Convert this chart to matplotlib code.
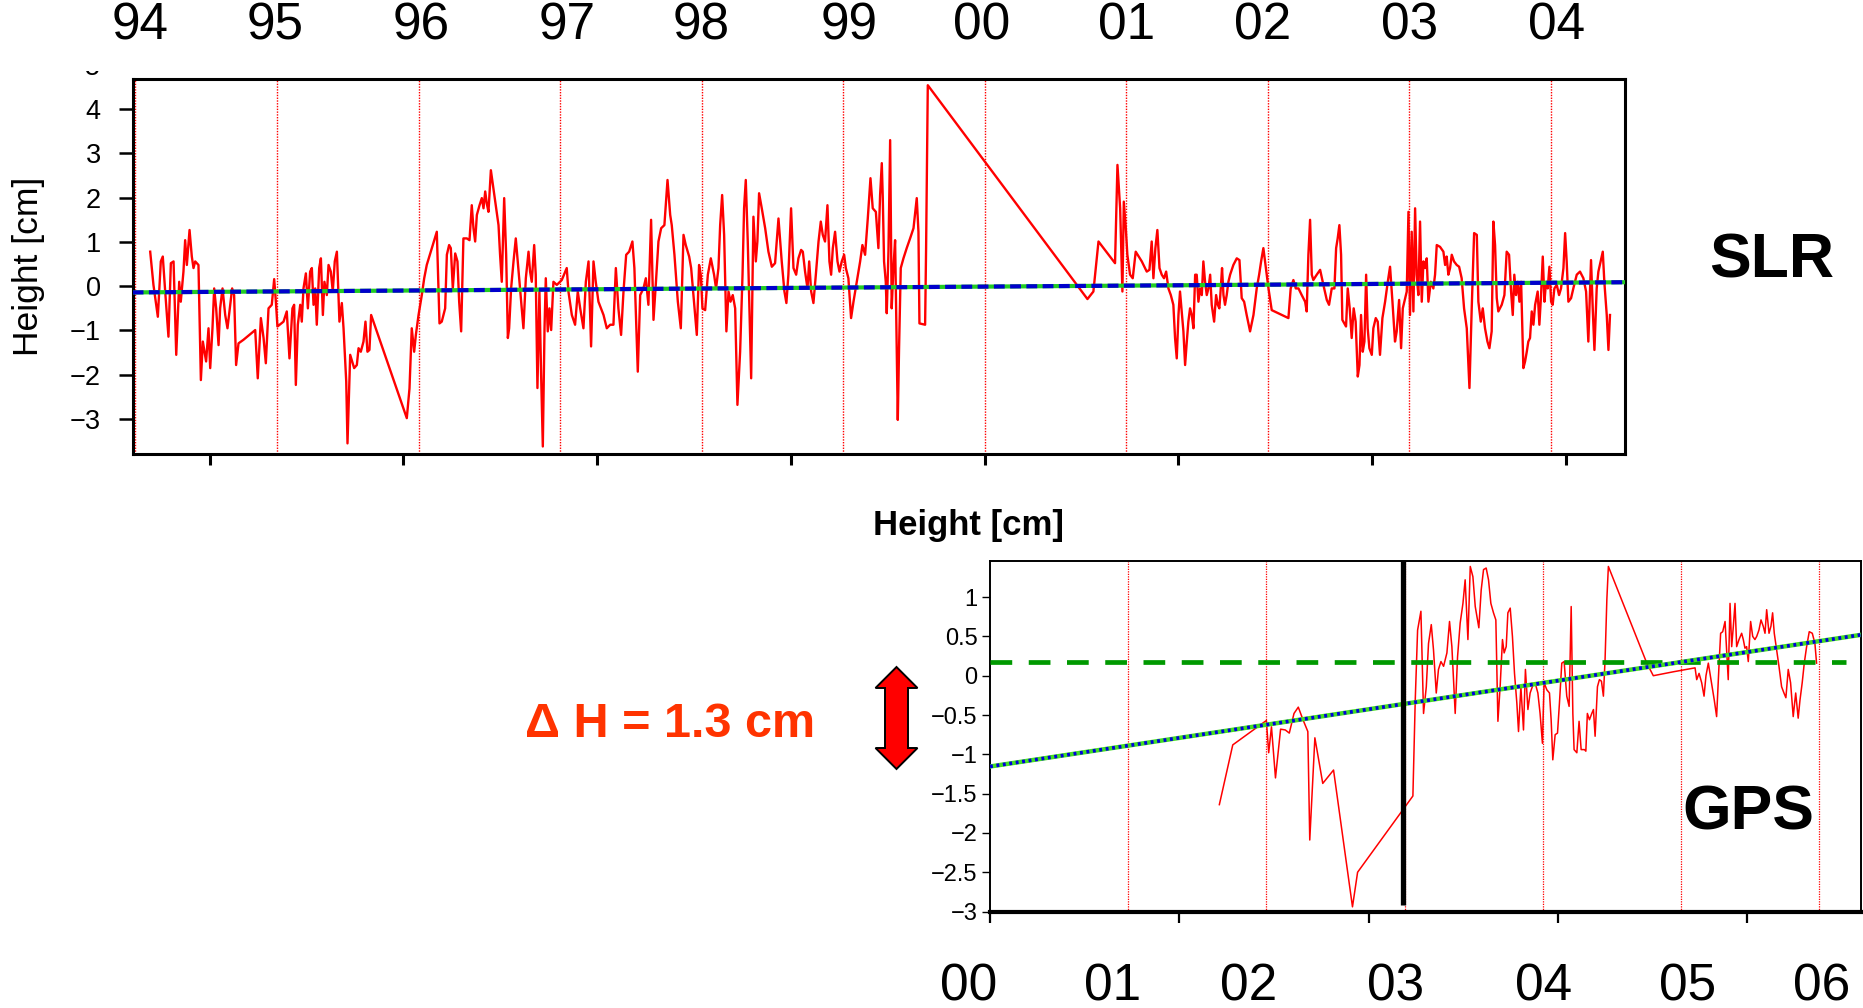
import matplotlib
matplotlib.use("Agg")
import matplotlib.pyplot as plt
import numpy as np
from matplotlib.patches import Polygon
from matplotlib.transforms import Bbox, TransformedBbox
from matplotlib.ticker import FuncFormatter

plt.rcParams['font.family'] = ['Liberation Sans', 'DejaVu Sans']
NARROW = ['Liberation Sans Narrow', 'Liberation Sans', 'DejaVu Sans']

# ---------------- SLR data (decimal year, height cm) ----------------
slr_year = [
1994.104,1994.127,1994.158,1994.179,1994.193,1994.210,1994.233,1994.250,1994.269,1994.288,
1994.309,1994.320,1994.339,1994.351,1994.363,1994.382,1994.398,1994.410,1994.422,1994.445,
1994.462,1994.476,1994.488,1994.499,1994.516,1994.528,1994.544,1994.556,1994.570,1994.587,
1994.598,1994.615,1994.634,1994.650,1994.669,1994.683,1994.697,1994.711,1994.728,1994.763,
1994.846,1994.864,1994.886,1994.905,1994.921,1994.940,1994.963,1994.980,1994.992,1995.003,
1995.046,1995.069,1995.088,1995.109,1995.121,1995.133,1995.147,1995.164,1995.175,1995.187,
1995.204,1995.218,1995.234,1995.246,1995.258,1995.270,1995.281,1995.298,1995.310,1995.324,
1995.335,1995.352,1995.364,1995.380,1995.394,1995.408,1995.423,1995.441,1995.458,1995.470,
1995.489,1995.498,1995.517,1995.531,1995.545,1995.564,1995.576,1995.592,1995.611,1995.625,
1995.639,1995.653,1995.665,1995.917,1995.936,1995.952,1995.969,1995.981,1996.000,1996.023,
1996.040,1996.058,1996.129,1996.148,1996.164,1996.188,1996.200,1996.216,1996.228,1996.242,
1996.259,1996.275,1996.287,1996.301,1996.317,1996.341,1996.360,1996.376,1996.388,1996.400,
1996.412,1996.431,1996.447,1996.459,1996.471,1996.482,1996.494,1996.511,1996.529,1996.548,
1996.565,1996.576,1996.588,1996.605,1996.619,1996.631,
1996.640,1996.654,1996.671,1996.687,1996.701,1996.718,1996.741,1996.758,1996.777,1996.788,
1996.800,1996.817,1996.828,1996.840,1996.854,1996.866,1996.878,1996.890,1996.899,1996.913,
1996.925,1996.937,1996.953,1996.977,1997.012,1997.047,1997.059,1997.083,1997.106,1997.125,
1997.142,1997.165,1997.182,1997.201,1997.219,1997.236,1997.252,1997.271,1997.307,1997.330,
1997.354,1997.377,1997.394,1997.412,1997.431,1997.448,1997.467,1997.488,1997.511,1997.525,
1997.549,1997.566,1997.589,1997.606,1997.624,1997.643,1997.660,1997.676,1997.695,1997.714,
1997.737,1997.759,1997.778,1997.789,1997.808,1997.832,1997.853,1997.872,1997.888,1997.912,
1997.926,1997.942,1997.966,1997.982,1997.994,1998.006,1998.025,1998.044,1998.065,1998.088,
1998.102,1998.119,1998.131,1998.145,1998.159,1998.175,1998.190,1998.204,1998.220,1998.237,
1998.253,1998.272,1998.289,1998.300,1998.312,1998.326,1998.338,1998.350,1998.366,1998.383,
1998.394,1998.406,1998.425,1998.449,1998.472,1998.496,1998.519,1998.543,1998.566,1998.585,
1998.599,1998.613,1998.632,1998.649,1998.668,1998.684,1998.703,1998.715,1998.731,1998.748,
1998.760,1998.774,1998.790,1998.807,1998.826,1998.842,1998.856,1998.872,1998.889,1998.903,
1998.915,1998.927,1998.943,1998.960,1998.974,1998.990,1999.007,1999.019,1999.037,1999.056,
1999.073,1999.096,1999.120,1999.136,1999.155,1999.174,1999.193,1999.209,1999.231,1999.249,
1999.261,1999.273,
1999.280,1999.289,1999.301,1999.308,1999.320,1999.332,1999.343,1999.355,1999.367,1999.379,
1999.386,1999.395,1999.407,1999.426,1999.449,1999.473,1999.497,1999.520,1999.532,1999.539,
1999.579,1999.586,1999.598,2000.726,2000.768,2000.804,2000.921,2000.938,2000.957,2000.973,
2000.983,2000.997,2001.008,2001.027,2001.046,2001.067,2001.110,2001.145,2001.164,2001.180,
2001.192,2001.206,2001.220,2001.235,2001.251,2001.267,2001.282,2001.298,2001.315,2001.333,
2001.345,2001.357,2001.369,2001.380,2001.392,2001.404,2001.416,2001.428,2001.439,2001.451,
2001.463,2001.475,2001.487,2001.498,2001.510,2001.522,2001.534,2001.545,2001.557,2001.569,
2001.581,2001.593,2001.604,2001.621,2001.635,2001.647,2001.658,2001.668,2001.677,2001.687,
2001.698,2001.710,2001.722,2001.734,2001.757,2001.781,2001.800,2001.816,2001.833,2001.851,
2001.875,2001.899,2001.922,
2001.939,2001.953,2001.969,2001.981,2002.005,2002.028,2002.146,2002.162,2002.181,2002.198,
2002.217,2002.240,2002.264,2002.275,2002.287,2002.299,2002.311,2002.322,2002.346,2002.370,
2002.393,2002.417,2002.433,2002.452,2002.471,2002.483,2002.494,2002.506,2002.518,2002.527,
2002.541,2002.553,2002.565,2002.579,2002.593,2002.607,2002.621,2002.636,2002.648,2002.659,
2002.671,2002.683,2002.695,2002.706,2002.718,2002.735,2002.746,2002.763,2002.777,2002.793,
2002.810,2002.829,2002.848,2002.864,2002.881,2002.899,2002.911,2002.928,2002.942,2002.954,
2002.965,2002.982,2002.994,2003.005,2003.017,2003.029,2003.041,2003.052,2003.064,2003.076,
2003.088,2003.100,2003.111,2003.123,2003.135,2003.152,2003.170,2003.182,2003.194,2003.217,
2003.241,2003.253,2003.264,2003.276,2003.288,2003.300,2003.316,2003.335,2003.352,2003.370,
2003.387,2003.406,2003.425,2003.441,2003.458,2003.477,2003.488,2003.505,2003.519,2003.535,
2003.552,2003.566,2003.582,2003.594,2003.606,2003.618,2003.629,2003.653,2003.672,2003.688,
2003.705,2003.719,2003.731,2003.742,2003.754,2003.766,2003.778,2003.790,2003.806,2003.818,
2003.830,2003.841,2003.853,2003.865,2003.877,2003.889,2003.907,2003.919,2003.931,2003.943,
2003.955,2003.966,2003.978,2003.990,2004.002,2004.013,2004.025,2004.042,2004.058,2004.072,
2004.089,2004.101,2004.112,2004.124,2004.143,2004.159,2004.183,2004.206,2004.230,2004.249,
2004.265,2004.284,2004.296,2004.308,2004.324,2004.336,2004.352,2004.367,2004.378,2004.395,
2004.407,2004.418]

slr_height = [
0.78,0.03,-0.69,0.56,0.67,-0.12,-1.14,0.52,0.56,-1.55,
0.10,-0.35,0.33,1.04,0.48,1.27,0.67,0.41,0.56,0.48,
-2.12,-1.25,-1.48,-1.70,-0.95,-1.85,-0.95,-0.05,-0.50,-1.33,
-0.50,-0.05,-0.65,-0.95,-0.42,-0.05,-0.20,-1.78,-1.29,-1.21,
-0.99,-2.08,-0.72,-1.17,-1.74,-0.50,-0.42,0.16,-0.35,-0.91,
-0.80,-0.57,-1.63,-0.50,-0.42,-2.23,-0.87,-0.42,-0.80,-0.05,
0.29,-0.50,0.33,0.41,-0.42,-0.05,-0.87,0.41,0.63,-0.65,
0.10,-0.20,0.48,0.33,-0.12,0.56,0.78,-0.80,-0.38,-0.95,
-2.15,-3.55,-1.55,-1.70,-1.85,-1.78,-1.40,-1.48,-1.25,-0.80,
-1.48,-1.44,-0.65,-2.98,-2.31,-0.95,-1.48,-1.10,-0.65,-0.20,
0.18,0.48,1.23,-0.84,-0.80,-0.50,0.71,0.93,0.86,-0.05,
0.74,0.56,-0.35,-1.02,1.08,1.08,1.04,1.83,1.31,1.01,
1.61,1.83,1.99,1.76,2.14,1.87,1.68,2.62,2.21,1.76,
1.38,0.71,0.10,1.99,0.71,-1.17,
-0.95,-0.05,0.56,1.08,0.56,-0.05,-0.95,0.18,0.78,0.33,
0.10,0.93,0.26,-2.30,-0.12,-2.00,-3.62,-0.95,0.18,-1.02,
-0.50,-0.99,0.10,0.03,0.14,0.41,-0.12,-0.65,-0.87,-0.12,
-0.50,-0.95,0.10,0.56,-1.36,0.56,0.10,-0.35,-0.65,-0.95,
-0.87,-0.87,0.41,-0.50,-1.10,-0.12,0.71,0.78,1.01,0.41,
-1.93,-0.20,-0.05,0.18,-0.42,1.50,-0.76,0.03,1.01,1.31,
1.38,2.40,1.61,1.38,0.71,-0.35,-0.95,1.16,0.93,0.67,
0.41,-0.20,-1.10,0.48,0.26,-0.50,-0.54,0.26,0.63,0.26,
-0.05,0.41,1.38,2.06,1.16,-1.02,-0.12,-0.35,-0.20,-0.50,
-2.68,-1.48,0.26,1.76,2.40,1.01,-0.50,-2.08,1.57,0.56,
1.01,2.10,1.76,1.31,0.78,0.44,0.52,1.53,0.56,-0.12,
-0.38,0.26,1.76,0.41,0.26,0.63,0.82,0.78,0.33,-0.05,
0.56,-0.12,-0.38,0.26,1.01,1.46,1.16,1.01,1.83,0.56,
0.26,0.86,1.23,0.56,0.33,0.56,0.71,0.41,0.18,-0.72,
-0.35,0.10,0.56,0.93,0.71,1.53,2.44,1.76,1.68,0.86,
2.06,2.78,
1.99,0.56,0.10,-0.61,0.78,3.30,-0.50,0.41,1.04,-1.48,
-3.02,-1.40,0.41,0.63,0.86,1.08,1.31,1.99,1.23,-0.84,
-0.87,0.86,4.54,-0.29,-0.12,1.01,0.52,2.74,1.76,-0.12,
1.91,1.31,0.71,0.26,0.18,0.78,0.56,0.33,0.37,1.01,
0.18,0.86,1.27,0.41,0.26,0.18,0.33,-0.05,-0.20,-0.42,
-1.17,-1.63,-0.65,-0.12,-0.57,-1.02,-1.78,-1.25,-0.80,-0.50,
-0.65,-0.95,0.26,0.26,-0.35,-0.05,-0.20,0.56,0.10,-0.20,
-0.05,0.26,-0.42,-0.80,-0.20,-0.42,-0.50,-0.05,0.41,-0.20,
-0.42,-0.20,0.10,0.26,0.48,0.63,0.59,-0.27,-0.35,-0.65,
-1.02,-0.65,-0.05,
0.26,0.56,0.86,0.56,-0.05,-0.54,-0.72,-0.05,0.14,-0.05,
-0.05,-0.20,-0.35,-0.57,0.71,1.50,0.26,0.14,0.26,0.37,
0.03,-0.31,-0.42,-0.05,-0.05,0.86,1.08,1.38,0.71,-0.76,
-0.84,-0.91,-0.05,-0.50,-1.17,-0.50,-0.80,-2.04,-1.78,-0.65,
-1.48,-1.25,0.26,-0.95,-1.40,-1.55,-0.95,-0.72,-0.80,-1.55,
-0.72,-0.35,0.10,0.44,-0.35,-1.25,-1.02,-0.31,-1.40,-0.50,
-0.35,-0.12,1.68,-0.65,1.23,-0.57,1.76,0.26,-0.20,1.46,
-0.35,0.56,0.41,0.63,-0.35,0.10,-0.05,0.26,0.93,0.89,
0.78,0.48,0.67,0.26,0.41,0.71,0.56,0.48,0.44,0.18,
-0.50,-0.95,-2.30,-0.50,1.20,1.16,-0.35,-0.80,-0.50,-0.95,
-1.25,-1.40,-1.02,1.46,0.93,-0.27,-0.57,-0.42,-0.20,0.78,
0.71,-0.12,-0.65,0.26,-0.20,0.10,-0.35,0.10,-1.85,-1.70,
-1.48,-1.25,-1.17,-0.57,-0.87,-0.42,-0.12,-0.87,-0.20,0.67,
-0.35,0.10,-0.05,0.44,-0.35,-0.42,-0.05,0.03,-0.20,-0.05,
0.41,1.20,0.56,-0.35,-0.27,-0.05,0.26,0.33,0.18,-0.12,
-1.25,0.59,-0.50,-1.44,-0.05,0.33,0.56,0.78,0.10,-0.65,
-1.44,-0.65]

slr_trend_year = [1993.98, 2004.526]
slr_trend_height = [-0.14, 0.09]
slr_year_marks = [1994, 1995, 1996, 1997, 1998, 1999, 2000, 2001, 2002, 2003, 2004]
slr_year_labels = ['94', '95', '96', '97', '98', '99', '00', '01', '02', '03', '04']
slr_label_pos = [1994.035, 1994.984, 1996.017, 1997.050, 1997.999, 1999.040,
                 1999.981, 2001.005, 2001.962, 2003.004, 2004.037]
slr_xticks = [1994.524, 1995.893, 1997.262, 1998.631, 2000.0, 2001.369, 2002.738, 2004.107]
slr_yticks = [-3, -2, -1, 0, 1, 2, 3, 4]

# ---------------- GPS data ----------------
gps_year = [
2001.659,2001.756,2001.999,2002.016,2002.036,2002.065,2002.102,2002.136,2002.165,2002.199,
2002.230,2002.264,2002.299,2002.313,2002.350,2002.407,2002.485,2002.622,2002.659,2003.059,
2003.076,2003.093,2003.117,2003.136,2003.156,2003.172,2003.192,2003.208,2003.228,2003.244,
2003.262,2003.281,2003.305,2003.324,2003.341,2003.365,2003.382,2003.401,2003.421,2003.437,
2003.457,2003.474,2003.493,2003.510,2003.536,2003.553,2003.570,2003.589,2003.606,2003.623,
2003.642,2003.659,2003.674,2003.690,2003.707,2003.719,2003.734,2003.746,2003.763,2003.779,
2003.794,2003.811,2003.823,2003.840,2003.859,2003.873,2003.891,2003.907,2003.927,2003.943,
2003.963,2003.979,2003.996,2004.008,2004.028,2004.047,2004.059,2004.071,2004.088,2004.105,
2004.119,2004.136,2004.153,2004.172,2004.189,2004.204,2004.216,2004.225,2004.245,2004.261,
2004.276,2004.300,2004.310,2004.321,2004.336,2004.353,2004.365,2004.377,2004.394,2004.408,
2004.423,2004.437,2004.449,2004.462,2004.473,2004.751,2004.798,2004.943,2005.100,2005.112,
2005.129,2005.148,2005.165,2005.179,2005.196,2005.215,2005.239,2005.256,2005.273,2005.285,
2005.300,2005.317,2005.329,2005.340,2005.353,2005.365,2005.377,2005.389,2005.401,2005.418,
2005.437,2005.449,2005.461,2005.473,2005.485,2005.502,2005.517,2005.533,2005.546,2005.562,
2005.577,2005.593,2005.606,2005.618,2005.635,2005.649,2005.661,2005.673,2005.690,2005.707,
2005.726,2005.743,2005.757,2005.774,2005.791,2005.810,2005.828,2005.846,2005.859,2005.875,
2005.890,2005.907,2005.926,2005.948,2005.967,2005.979]

gps_height = [
-1.64,-0.88,-0.57,-0.98,-0.65,-1.30,-0.68,-0.69,-0.73,-0.48,
-0.40,-0.56,-0.71,-2.09,-0.79,-1.37,-1.20,-2.94,-2.50,-1.53,
-0.31,0.58,0.82,-0.48,-0.14,0.41,0.65,0.33,-0.22,0.08,
0.18,0.12,0.29,0.69,0.37,-0.48,0.24,0.67,0.92,1.22,
0.46,1.39,1.26,0.88,0.61,1.09,1.35,1.37,1.22,0.92,
0.80,0.71,-0.58,-0.14,0.46,0.29,0.37,0.80,0.86,0.50,
0.03,-0.35,-0.71,-0.14,-0.69,0.08,-0.43,-0.22,-0.12,-0.09,
-0.22,-0.48,-0.86,-0.09,-0.18,-0.22,-0.56,-1.07,-0.75,-0.73,
-0.35,0.16,0.18,-0.26,-0.39,0.88,-0.48,-0.94,-0.98,-0.58,
-0.94,-0.94,-0.96,-0.48,-0.56,-0.48,-0.43,-0.77,-0.14,-0.05,
-0.07,-0.26,0.20,0.97,1.39,0.16,0.00,0.05,0.10,-0.05,
0.03,-0.09,-0.26,0.00,0.16,-0.05,-0.31,-0.52,0.12,0.54,
0.56,0.69,0.29,-0.05,0.92,0.37,0.63,0.92,0.37,0.46,
0.54,0.46,0.35,0.37,0.18,0.69,0.50,0.46,0.50,0.58,
0.71,0.63,0.54,0.84,0.54,0.63,0.80,0.54,0.33,0.12,
-0.14,-0.22,-0.28,0.08,-0.09,-0.52,-0.22,-0.54,-0.31,-0.09,
0.16,0.37,0.56,0.54,0.41,0.16]

gps_trend_year = [2000.0, 2006.30]
gps_trend_height = [-1.155, 0.52]
gps_offset_year = [2000.0, 2006.19]
gps_offset_height = [0.17, 0.17]
gps_break_year = 2002.99
gps_break_range = [-2.92, 1.46]
gps_year_marks = [2001, 2002, 2003, 2004, 2005, 2006]
gps_year_labels = ['00', '01', '02', '03', '04', '05', '06']
gps_label_pos = [1999.845, 2000.888, 2001.871, 2002.931, 2004.004, 2005.046, 2006.019]
gps_xticks = [2000.0, 2001.369, 2002.738, 2004.107, 2005.476]
gps_yticks = [-3, -2.5, -2, -1.5, -1, -0.5, 0, 0.5, 1]

# ---------------- figure ----------------
W, H = 1863, 1008
fig = plt.figure(figsize=(W / 100, H / 100), dpi=100)
fig.patch.set_facecolor('white')

fmt = FuncFormatter(lambda v, p: ('%g' % v).replace('-', '\u2212'))

# ---- SLR panel ----
ax1 = fig.add_axes([0.0712, 0.5496, 0.8012, 0.372])
for yr in slr_year_marks:
    ax1.axvline(yr, color='red', lw=1.0, ls=(0, (1, 1.0)), zorder=1)
ax1.plot(slr_year, slr_height, color='red', lw=1.7, zorder=3)
ax1.plot(slr_trend_year, slr_trend_height, color='#22CC22', lw=3.0, zorder=4)
ax1.plot(slr_trend_year, slr_trend_height, color='#0000CC', lw=3.0,
         dashes=(2.6, 1.3), zorder=5)
ax1.set_xlim(1993.98, 2004.526)
ax1.set_ylim(-3.79, 4.68)
ax1.set_xticks(slr_xticks)
ax1.set_yticks(slr_yticks)
ax1.yaxis.set_major_formatter(fmt)
ax1.tick_params(axis='x', direction='out', length=8, width=2.2, labelbottom=False)
ax1.tick_params(axis='y', direction='out', length=10, width=1.8, pad=13,
                labelsize=19.5)
for s in ax1.spines.values():
    s.set_linewidth(2.2)
ax1.set_ylabel('Height [cm]', fontsize=25.5)
ax1.yaxis.set_label_coords(-0.059, 0.5)
for lab, yr in zip(slr_year_labels, slr_label_pos):
    ax1.text(yr, 1.141, lab, transform=ax1.get_xaxis_transform(), ha='center',
             va='center', fontsize=37, family=NARROW)
# partially hidden "5" tick label at the top of the axis
t5 = ax1.text(-0.0216, 5, '5', transform=ax1.get_yaxis_transform(), ha='right',
              va='center_baseline', fontsize=19.5, clip_on=True)
t5.set_clip_box(TransformedBbox(Bbox.from_extents(0, 0, 1, 1 - 71 / H), fig.transFigure))

# ---- GPS panel ----
ax2 = fig.add_axes([0.5314, 0.0957, 0.4675, 0.3478])
for yr in gps_year_marks:
    ax2.axvline(yr, color='red', lw=0.9, ls=(0, (1, 1.0)), zorder=1)
ax2.plot(gps_year, gps_height, color='red', lw=1.1, zorder=3)
ax2.plot(gps_offset_year, gps_offset_height, color='#009900', lw=3.4,
         dashes=(4.6, 3.5), zorder=4)
ax2.plot(gps_trend_year, gps_trend_height, color='#44DD22', lw=3.2, zorder=5)
ax2.plot(gps_trend_year, gps_trend_height, color='#0000DD', lw=2.6,
         dashes=(0.8, 1.0), zorder=6)
ax2.plot([gps_break_year, gps_break_year], gps_break_range, color='black',
         lw=3.8, zorder=7, solid_capstyle='butt', clip_on=False)
ax2.set_xlim(2000.0, 2006.30)
ax2.set_ylim(-3.0, 1.46)
ax2.set_xticks(gps_xticks)
ax2.set_yticks(gps_yticks)
ax2.yaxis.set_major_formatter(fmt)
ax2.tick_params(axis='x', direction='out', length=8, width=1.6, labelbottom=False)
ax2.tick_params(axis='y', direction='out', length=6, width=1.0, pad=3)
for lab in ax2.get_yticklabels():
    lab.set_fontsize(17)
    lab.set_family(NARROW)
for k, s in ax2.spines.items():
    s.set_linewidth(1.4)
ax2.spines['bottom'].set_linewidth(3.0)
for lab, yr in zip(gps_year_labels, gps_label_pos):
    ax2.text(yr, -0.2143, lab, transform=ax2.get_xaxis_transform(), ha='center',
             va='center', fontsize=37, family=NARROW)

# ---- annotations ----
fig.text(1772 / W, 1 - 278 / H, 'SLR', fontsize=45, fontweight='bold',
         ha='center', va='baseline')
fig.text(1748 / W, 1 - 829 / H, 'GPS', fontsize=45, fontweight='bold',
         ha='center', va='baseline', zorder=10)
fig.text(968.7 / W, 1 - 535 / H, 'Height [cm]', fontsize=25, fontweight='bold',
         ha='center', va='baseline')
fig.text(669.7 / W, 1 - 737.3 / H, '\u0394 H = 1.3 cm', fontsize=35,
         fontweight='bold', color='#FF3300', ha='center', va='baseline')

# double-headed arrow (pixel outline, image coordinates)
ax_px = np.array([896.5, 917.5, 908, 908, 917.5, 896.5, 875.5, 885, 885, 875.5])
ay_px = np.array([667, 688, 688, 748, 748, 769, 748, 748, 688, 688])
arrow = Polygon(np.column_stack([ax_px / W, 1 - ay_px / H]), closed=True,
                transform=fig.transFigure, facecolor='#FF0000',
                edgecolor='black', lw=1.4, zorder=10)
fig.patches.append(arrow)

fig.savefig('out.png', dpi=100, facecolor='white')
